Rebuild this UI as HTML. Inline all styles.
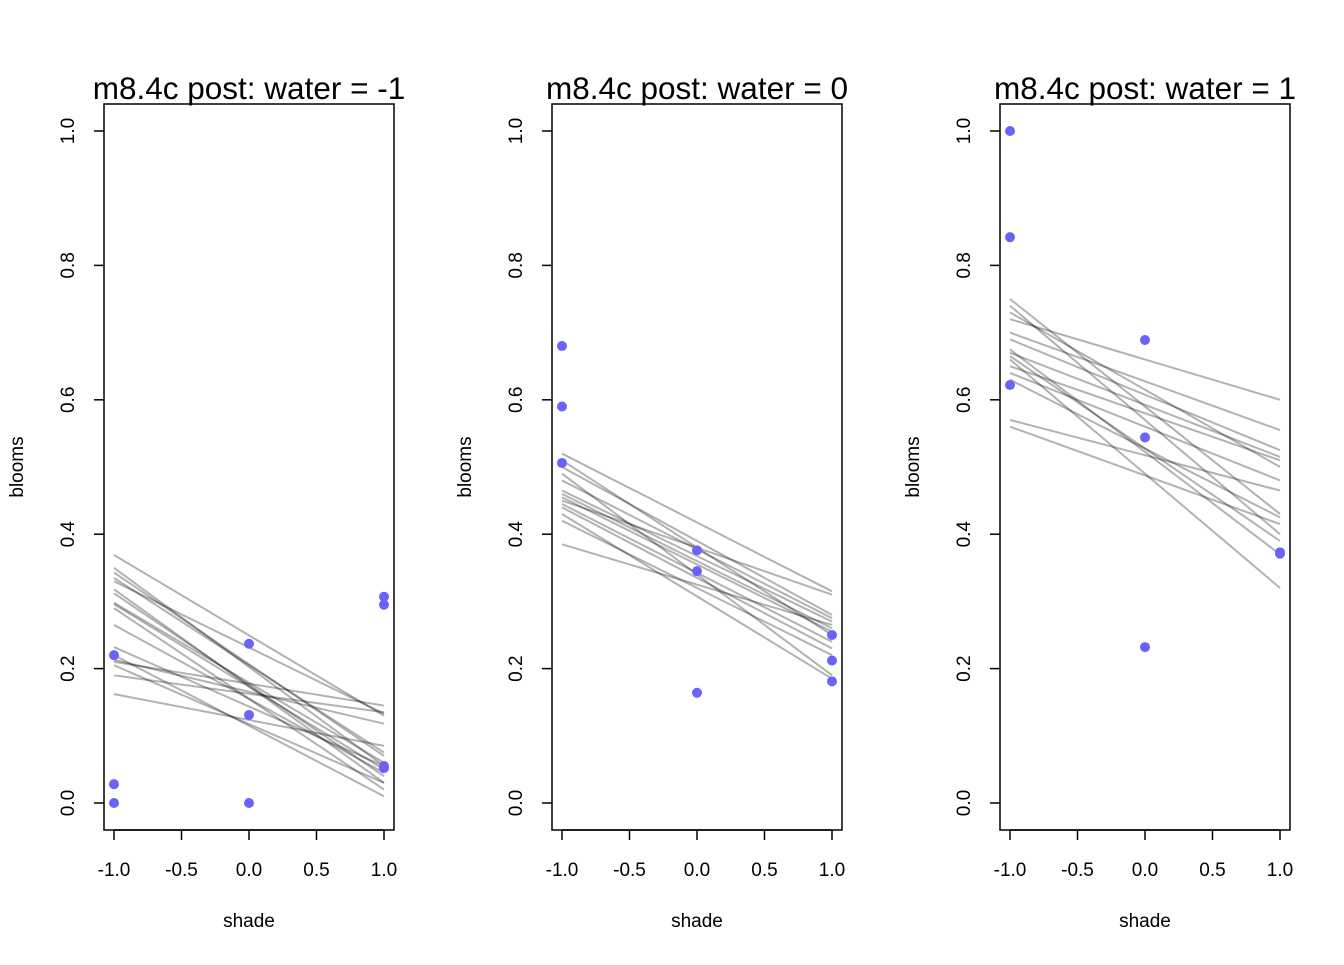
<!DOCTYPE html>
<html><head><meta charset="utf-8"><style>
body{margin:0;background:#fff}
svg text{font-family:"Liberation Sans",Arial,sans-serif;fill:#000}
</style></head><body>
<svg id="chart" width="1344" height="960"></svg>
<script>
const titles=["m8.4c post: water = -1","m8.4c post: water = 0","m8.4c post: water = 1"];
const xTicks=[-1,-0.5,0,0.5,1];
const xTickLabels=["-1.0","-0.5","0.0","0.5","1.0"];
const yTicks=[0,0.2,0.4,0.6,0.8,1.0];
const yTickLabels=["0.0","0.2","0.4","0.6","0.8","1.0"];
const p1Start=[0.369,0.35,0.343,0.335,0.33,0.318,0.312,0.298,0.296,0.29,0.265,0.232,0.21,0.213,0.19,0.162,0.22,0.205];
const p1End=[0.13,0.055,0.07,0.075,0.133,0.03,0.04,0.06,0.05,0.02,0.045,0.055,0.145,0.118,0.135,0.085,0.01,0.03];
const p2Start=[0.52,0.51,0.5,0.49,0.48,0.465,0.46,0.45,0.445,0.44,0.43,0.42,0.385,0.455];
const p2End=[0.315,0.25,0.28,0.19,0.275,0.27,0.26,0.31,0.24,0.23,0.185,0.22,0.265,0.255];
const p3Start=[0.75,0.74,0.73,0.72,0.70,0.69,0.675,0.67,0.665,0.66,0.65,0.64,0.63,0.57,0.56];
const p3End=[0.43,0.40,0.50,0.6,0.555,0.525,0.37,0.515,0.39,0.32,0.51,0.48,0.425,0.465,0.415];
const p1PtsX=[-1,-1,-1,0,0,0,1,1,1,1];
const p1PtsY=[0.22,0.028,0,0.237,0.131,0,0.307,0.295,0.055,0.052];
const p2PtsX=[-1,-1,-1,0,0,0,1,1,1];
const p2PtsY=[0.68,0.59,0.506,0.376,0.345,0.164,0.25,0.212,0.181];
const p3PtsX=[-1,-1,-1,0,0,0,1,1];
const p3PtsY=[1.0,0.842,0.622,0.689,0.544,0.232,0.373,0.371];
const starts=[p1Start,p2Start,p3Start],ends=[p1End,p2End,p3End];
const ptsX=[p1PtsX,p2PtsX,p3PtsX],ptsY=[p1PtsY,p2PtsY,p3PtsY];
const NS="http://www.w3.org/2000/svg";
const svg=document.getElementById('chart');
function mk(t,a,p){const e=document.createElementNS(NS,t);for(const k in a)e.setAttribute(k,a[k]);(p||svg).appendChild(e);return e;}
const offs=[0,448,896];
offs.forEach((o,i)=>{
 const g=mk('g',{});
 
 
 const X=v=>o+249+v*135, Y=v=>803-v*672;
 for(let k=0;k<starts[i].length;k++){
  const l=mk('line',{x1:X(-1),y1:Y(starts[i][k]),x2:X(1),y2:Y(ends[i][k]),stroke:'rgba(0,0,0,0.3)','stroke-width':2},g);
  
  
 }
 for(let k=0;k<ptsX[i].length;k++){
  const c=mk('circle',{cx:X(ptsX[i][k]),cy:Y(ptsY[i][k]),r:5,fill:'#6b63f5'},g);
  
  
 }
 const b=mk('rect',{x:o+104,y:104,width:290,height:726,fill:'none',stroke:'#000','stroke-width':1.5},g);
 
 
 mk('line',{x1:X(-1),x2:X(1),y1:830,y2:830,stroke:'#000','stroke-width':1.5},g);
 xTicks.forEach((t,j)=>{
  mk('line',{x1:X(t),x2:X(t),y1:830,y2:840,stroke:'#000','stroke-width':1.5},g);
  const tx=mk('text',{x:X(t),y:876,'font-size':19,'text-anchor':'middle'},g);tx.textContent=xTickLabels[j];
  
  
 });
 yTicks.forEach((t,j)=>{
  mk('line',{x1:o+104,x2:o+94,y1:Y(t),y2:Y(t),stroke:'#000','stroke-width':1.5},g);
  const tx=mk('text',{x:o+74,y:Y(t),'font-size':19,'text-anchor':'middle',transform:`rotate(-90 ${o+74} ${Y(t)})`},g);tx.textContent=yTickLabels[j];
  
  
 });
 const tt=mk('text',{x:o+249,y:99,'font-size':31.5,'text-anchor':'middle'},g);tt.textContent=titles[i];
 
 
 const xl=mk('text',{x:o+249,y:927,'font-size':19,'text-anchor':'middle'},g);xl.textContent='shade';
 
 
 const yl=mk('text',{x:o+23,y:467,'font-size':19,'text-anchor':'middle',transform:`rotate(-90 ${o+23} 467)`},g);yl.textContent='blooms';
 
 
});
</script>
</body></html>
